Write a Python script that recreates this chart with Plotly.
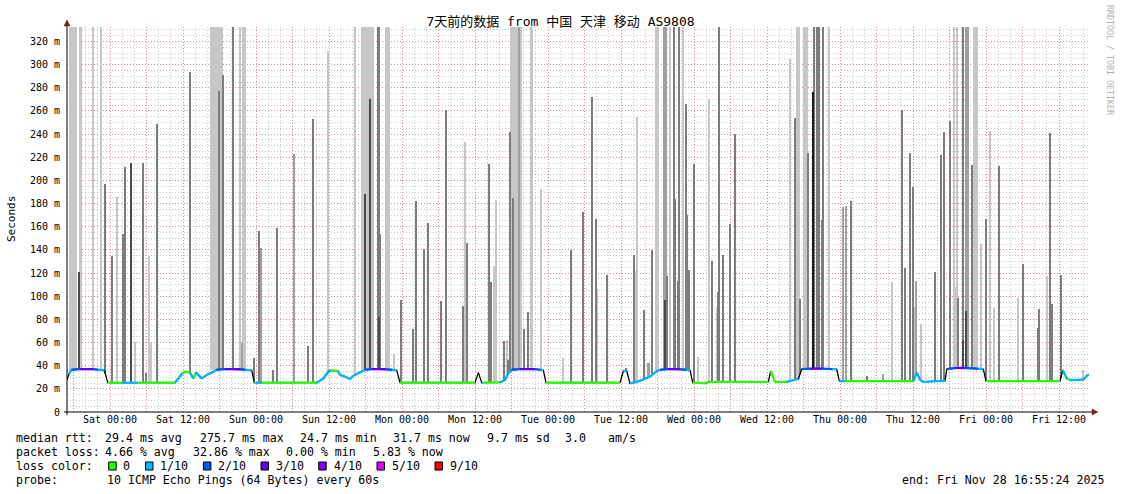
import plotly.graph_objects as go
import numpy as np
import pandas as pd
from datetime import datetime, timedelta

# ---------------- data ----------------
START = datetime(2025, 11, 21, 16, 55, 24)
END = datetime(2025, 11, 28, 16, 55, 24)

TITLE = "7天前的数据 from 中国 天津 移动 AS9808"

Y_TICK_VALUES = [0, 20, 40, 60, 80, 100, 120, 140, 160, 180, 200, 220, 240, 260, 280, 300, 320]
Y_TICK_LABELS = ["0", "20 m", "40 m", "60 m", "80 m", "100 m", "120 m", "140 m", "160 m",
                 "180 m", "200 m", "220 m", "240 m", "260 m", "280 m", "300 m", "320 m"]

X_TICK_TIMES = ["2025-11-22 00:00", "2025-11-22 12:00", "2025-11-23 00:00", "2025-11-23 12:00",
                "2025-11-24 00:00", "2025-11-24 12:00", "2025-11-25 00:00", "2025-11-25 12:00",
                "2025-11-26 00:00", "2025-11-26 12:00", "2025-11-27 00:00", "2025-11-27 12:00",
                "2025-11-28 00:00", "2025-11-28 12:00"]
X_TICK_LABELS = ["Sat 00:00", "Sat 12:00", "Sun 00:00", "Sun 12:00", "Mon 00:00", "Mon 12:00",
                 "Tue 00:00", "Tue 12:00", "Wed 00:00", "Wed 12:00", "Thu 00:00", "Thu 12:00",
                 "Fri 00:00", "Fri 12:00"]

LOSS_LABELS = ["0", "1/10", "2/10", "3/10", "4/10", "5/10", "9/10"]
LOSS_COLORS = ["#26ff00", "#00b8ff", "#0059ff", "#5e00ff", "#7e00ff", "#dd00ff", "#ff0000"]

MEDIAN_STATS = ["median rtt:", "29.4 ms avg", "275.7 ms max", "24.7 ms min", "31.7 ms now",
                "9.7 ms sd", "3.0", "am/s"]
LOSS_STATS = ["packet loss:", "4.66 % avg", "32.86 % max", "0.00 % min", "5.83 % now"]
PROBE_TEXT = ["probe:", "10 ICMP Echo Pings (64 Bytes) every 60s"]
END_TEXT = "end: Fri Nov 28 16:55:24 2025"

# median rtt (hours since start, ms, loss class index)
median_h = [0.0, 0.33, 0.77, 2.14, 4.27, 5.10, 6.16, 6.69, 8.88, 11.67, 17.75, 18.30, 18.91, 19.40,
            20.22, 20.76, 21.21, 22.14, 22.97, 23.79, 24.61, 25.97, 28.44, 29.26, 30.36, 30.79,
            31.07, 32.06, 41.05, 42.13, 42.96, 43.24, 44.55, 44.88, 45.70, 46.52, 47.07, 48.17,
            48.99, 50.14, 52.28, 53.43, 54.20, 54.74, 67.07, 67.62, 68.17, 68.39, 71.18, 72.00,
            72.55, 73.11, 74.47, 76.94, 77.76, 78.30, 78.74, 90.91, 91.45, 92.01, 92.55, 93.37,
            94.48, 95.84, 96.95, 97.49, 98.80, 100.77, 101.76, 102.42, 102.86, 105.16, 105.43,
            115.29, 115.68, 116.39, 118.31, 120.22, 120.78, 122.14, 124.12, 125.76, 126.53,
            126.96, 127.90, 139.13, 139.69, 140.23, 140.77, 144.34, 144.62, 146.00, 147.62,
            149.76, 150.63, 151.08, 163.24, 163.69, 164.35, 164.89, 167.08, 167.64, 168.0]
median_ms = [27.6, 33.0, 36.5, 37.0, 37.0, 36.5, 36.0, 25.3, 25.3, 25.3, 25.3, 29.0, 33.0, 35.0,
             34.0, 29.0, 34.0, 29.0, 32.0, 34.0, 36.5, 37.0, 37.0, 36.5, 36.0, 25.3,
             25.3, 25.3, 25.3, 29.0, 35.0, 36.0, 35.5, 32.0, 30.5, 28.5, 31.3, 34.2,
             36.5, 37.0, 37.0, 36.5, 36.0, 25.3, 25.3, 34.0, 25.3, 25.3, 25.6, 27.6,
             33.4, 36.5, 37.0, 37.0, 36.5, 36.0, 25.3, 25.3, 35.4, 35.4, 24.7, 25.6,
             27.6, 30.5, 35.4, 36.5, 37.0, 37.0, 36.5, 36.0, 25.3, 24.7, 26.1,
             26.0, 35.4, 26.0, 26.0, 28.5, 37.1, 37.5, 37.5, 37.0, 37.0,
             26.7, 26.7, 26.7, 34.2, 27.6, 26.1, 27.0, 37.0, 38.0, 38.0,
             37.5, 37.0, 26.7, 26.7, 36.2, 29.0, 27.6, 28.0, 31.3, 32.5]
median_loss = [1, 1, 2, 3, 2, 1, 1, 0, 1, 0, 1, 1, 0, 0,
               1, 0, 1, 1, 1, 1, 2, 3, 2, 1, 1, 0,
               1, 0, 1, 1, 1, 0, 1, 1, 1, 1, 1, 1,
               2, 3, 2, 1, 1, 0, 0, 0, 1, 0, 1, 1,
               1, 2, 3, 2, 1, 0, 0, 0, 1, 1, 1, 1,
               1, 1, 1, 2, 3, 2, 1, 1, 0, 0, 0,
               0, 0, 0, 1, 1, 2, 3, 2, 1, 0,
               1, 0, 1, 1, 1, 1, 1, 2, 3, 2,
               1, 0, 0, 1, 1, 0, 1, 1, 1, 1]

# smoke (hours since start of burst centre, top of burst in ms, burst duration h, shade)
smoke_h = [0.99, 2.18, 2.02, 4.32, 5.51, 6.30, 7.35, 8.27, 9.37, 9.26, 9.49, 10.47, 11.23, 12.54,
           12.99, 13.53, 13.86, 14.84, 20.22, 24.60, 25.04, 25.69, 27.34, 28.44, 28.88, 29.31,
           28.72, 30.74, 31.51, 31.94, 31.84, 33.82, 34.57, 37.37, 39.67, 40.49, 42.96, 47.34,
           49.37, 48.94, 49.76, 51.13, 51.34, 51.45, 51.34, 52.69, 53.75, 54.96, 56.93, 57.42,
           58.74, 59.39, 61.53, 62.35, 65.15, 65.38, 65.81, 69.42, 69.75, 70.19, 70.47, 71.81,
           72.28, 72.45, 73.79, 72.82, 73.27, 74.35, 75.13, 75.83, 76.34, 77.87, 81.59, 82.80,
           84.87, 86.25, 86.91, 87.18, 88.72, 91.89, 93.26, 93.37, 93.75, 94.90, 95.63, 96.12,
           96.83, 97.02, 98.36, 98.26, 98.69, 99.13, 99.79, 100.00, 100.45, 100.66, 101.32,
           101.71, 101.97, 102.25, 103.12, 103.78, 105.59, 106.08, 106.85, 107.07, 107.23,
           107.89, 109.04, 109.86, 118.85, 119.67, 120.17, 120.51, 121.45, 121.77, 122.69,
           122.85, 123.34, 123.67, 124.16, 124.33, 125.22, 127.62, 128.06, 128.93, 131.56,
           134.19, 135.57, 137.31, 137.71, 138.58, 139.02, 139.35, 139.52, 140.34, 142.74,
           143.73, 144.12, 145.20, 145.86, 146.14, 146.35, 146.52, 147.25, 147.95, 147.25,
           147.79, 148.73, 149.35, 150.20, 150.30, 151.12, 151.73, 152.34, 153.21, 156.29,
           157.21, 159.67, 159.84, 161.15, 161.65, 161.98, 163.36, 166.97]
smoke_top = [400, 400, 121, 400, 400, 197, 134.6, 185.8, 123, 153.6, 211.7, 215.4, 60.7, 215.4,
             33.6, 134.6, 59.8, 249, 294, 400, 277, 290.8, 400, 400, 400, 400,
             59.8, 46.3, 156, 142, 114.5, 36, 158.5, 223, 57, 253.4, 311.5, 400,
             400, 188.6, 270, 400, 400, 153.6, 82, 400, 50, 96.6, 72, 182,
             140.4, 163.3, 95.8, 260.6, 91.5, 233, 146, 214, 112, 126, 183, 61,
             62, 45, 400, 241.6, 185, 400, 71.3, 86, 400, 193, 47, 140,
             172.8, 271.8, 166.5, 106, 118, 38, 136, 122, 255, 88, 42, 140,
             89.6, 400, 400, 96.6, 117.3, 400, 400, 184, 113, 400, 400,
             265.7, 170, 122.5, 214, 47.7, 270.7, 130, 89.6, 103.5, 400,
             135.5, 162, 240, 305, 254, 400, 97.5, 400, 224, 276.4,
             400, 400, 400, 165.6, 400, 400, 177, 177.7, 182.3, 31,
             32.8, 112, 260.6, 124, 224, 194.4, 91, 113, 76, 120.5,
             222, 241.6, 251, 400, 108, 400, 98.7, 400, 400, 62,
             87, 213, 400, 145.5, 64, 166.5, 242.7, 89.5, 212.5, 98.7,
             127.7, 72.7, 89, 117.3, 241, 93.2, 118, 36]
smoke_span = [1.31, 0.58, 0.16, 0.16, 0.33, 0.16, 0.16, 0.16, 0.49, 0.16, 0.16, 0.33, 0.16, 0.16,
              0.16, 0.16, 0.16, 0.16, 0.16, 2.19, 0.33, 0.16, 0.16, 0.16, 0.16, 0.16,
              0.33, 0.16, 0.33, 0.16, 0.16, 0.16, 0.16, 0.16, 0.33, 0.16, 0.16, 0.16,
              2.19, 0.33, 0.33, 0.16, 0.16, 0.16, 0.16, 0.82, 0.16, 0.16, 0.16, 0.16,
              0.16, 0.16, 0.16, 0.16, 0.16, 0.16, 0.16, 0.16, 0.16, 0.16, 0.16, 0.38,
              0.16, 0.16, 1.92, 0.16, 0.16, 0.16, 0.16, 0.16, 0.44, 0.16, 0.16, 0.33,
              0.16, 0.16, 0.16, 0.16, 0.16, 0.16, 0.16, 0.16, 0.33, 0.16, 0.49, 0.16,
              0.16, 0.71, 0.66, 0.33, 0.16, 0.16, 0.16, 0.16, 0.16, 0.16, 0.33,
              0.16, 0.16, 0.16, 0.16, 0.33, 0.16, 0.16, 0.16, 0.16, 0.16,
              0.16, 0.16, 0.16, 0.16, 0.16, 0.66, 0.16, 0.82, 0.16, 0.33,
              0.16, 0.16, 0.16, 0.16, 0.16, 0.33, 0.16, 0.16, 0.16, 0.16,
              0.16, 0.16, 0.16, 0.33, 0.33, 0.16, 0.16, 0.16, 0.33, 0.16,
              0.16, 0.33, 0.16, 0.16, 0.16, 0.16, 0.16, 0.16, 0.66, 0.16,
              0.16, 0.33, 0.92, 0.16, 0.16, 0.16, 0.16, 0.33, 0.33, 0.16,
              0.16, 0.33, 0.16, 0.16, 0.16, 0.16, 0.33, 0.33]
smoke_shade = ["L", "L", "K", "L", "L", "D", "D", "L", "M", "D", "D", "K", "L", "D",
               "D", "L", "L", "D", "D", "L", "D", "D", "D", "L", "L", "L",
               "M", "D", "D", "M", "L", "D", "D", "M", "D", "D", "L", "L",
               "L", "K", "K", "D", "D", "D", "K", "L", "L", "D", "D", "D",
               "D", "D", "D", "D", "D", "L", "D", "D", "D", "L", "L", "D",
               "L", "D", "L", "D", "D", "M", "D", "D", "L", "L", "L", "D",
               "D", "D", "D", "L", "D", "D", "D", "L", "L", "D", "M", "D",
               "L", "L", "M", "K", "D", "L", "D", "D", "D", "D", "L",
               "D", "D", "D", "D", "L", "L", "D", "L", "D", "D",
               "D", "D", "D", "L", "D", "L", "D", "L", "D", "X",
               "D", "D", "D", "D", "D", "L", "M", "M", "D", "D",
               "M", "L", "D", "D", "D", "D", "L", "M", "L", "D",
               "D", "D", "D", "L", "L", "L", "D", "D", "M", "K",
               "K", "D", "L", "L", "L", "D", "L", "L", "D", "L",
               "D", "D", "D", "L", "D", "D", "D", "L"]

SHADE_COLORS = {"L": "#c6c6c6", "M": "#a0a0a0", "D": "#7c7c7c", "K": "#4a4a4a", "X": "#1a1a1a"}

# ---------------- geometry helpers (pixels -> paper) ----------------
W, H = 1121, 494
PL, PR, PT, PB = 67, 1089, 27, 412


def pxx(x):
    return (x - PL) / (PR - PL)


def pxy(y):
    return (PB - y) / (PB - PT)


def t(h):
    return START + timedelta(hours=h)


MONO = "DejaVu Sans Mono, Noto Sans CJK SC, monospace"

fig = go.Figure()

# smoke
base = np.interp(smoke_h, median_h, median_ms)
for shade in ["L", "M", "D", "K", "X"]:
    idx = [i for i, s in enumerate(smoke_shade) if s == shade]
    if not idx:
        continue
    fig.add_trace(go.Bar(
        x=[t(smoke_h[i]) for i in idx],
        y=[smoke_top[i] - base[i] for i in idx],
        base=[base[i] for i in idx],
        width=[smoke_span[i] * 3600 * 1000 for i in idx],
        marker=dict(color=SHADE_COLORS[shade], line=dict(width=0)),
        hoverinfo="skip", showlegend=False,
    ))

# black median underline
fig.add_trace(go.Scatter(x=[t(h) for h in median_h], y=median_ms, mode="lines",
                         line=dict(color="#000000", width=1.3), hoverinfo="skip", showlegend=False))

# coloured median by loss (steep transitions left black)
for c, col in enumerate(LOSS_COLORS):
    xs, ys = [], []
    for i in range(len(median_h) - 1):
        if median_loss[i] != c:
            continue
        slope = abs(median_ms[i + 1] - median_ms[i]) / max(median_h[i + 1] - median_h[i], 1e-6)
        if slope > 15:
            continue
        xs += [t(median_h[i]), t(median_h[i + 1]), None]
        ys += [median_ms[i], median_ms[i + 1], None]
    if xs:
        fig.add_trace(go.Scatter(x=xs, y=ys, mode="lines", line=dict(color=col, width=2.3),
                                 hoverinfo="skip", showlegend=False))

# axis grid ticks
major_times = pd.date_range("2025-11-21 18:00", END, freq="6h")
label_map = dict(zip(pd.to_datetime(X_TICK_TIMES), X_TICK_LABELS))
major_text = [label_map.get(m, "") for m in major_times]

RED_GRID = "rgba(225,90,90,0.55)"
GREY_GRID = "rgba(150,150,150,0.5)"

fig.update_layout(
    width=W, height=H,
    margin=dict(l=PL, r=W - PR, t=PT, b=H - PB, pad=0),
    paper_bgcolor="#ffffff", plot_bgcolor="#ffffff",
    barmode="overlay", bargap=0,
    showlegend=False,
    font=dict(family=MONO, size=10, color="#000000"),
    title=dict(text=TITLE, x=0.5, xref="container", xanchor="center",
               y=1 - 21 / H, yref="container", yanchor="middle",
               font=dict(family=MONO, size=13, color="#000000")),
)
fig.update_xaxes(
    type="date", range=[START, END],
    tickvals=list(major_times), ticktext=major_text,
    showgrid=True, gridcolor=RED_GRID, griddash="1px,2px", gridwidth=1,
    minor=dict(dtick=2 * 3600 * 1000, showgrid=True, gridcolor=GREY_GRID, griddash="1px,2px"),
    showline=False, zeroline=False, ticks="",
    tickfont=dict(family=MONO, size=10, color="#000000"),
    fixedrange=True,
)
fig.update_yaxes(
    range=[0, 332.5],
    tickvals=Y_TICK_VALUES, ticktext=Y_TICK_LABELS,
    showgrid=True, gridcolor=RED_GRID, griddash="1px,2px", gridwidth=1,
    minor=dict(dtick=5, showgrid=True, gridcolor=GREY_GRID, griddash="1px,2px"),
    showline=False, zeroline=False, ticks="", ticklabelstandoff=6,
    tickfont=dict(family=MONO, size=10, color="#000000"),
    fixedrange=True,
)

shapes = []
# axes with arrows
shapes.append(dict(type="line", xref="paper", yref="paper", x0=pxx(64), x1=pxx(1093), y0=0, y1=0,
                   line=dict(color="#000000", width=1)))
shapes.append(dict(type="line", xref="paper", yref="paper", x0=0, x1=0, y0=pxy(415), y1=pxy(24),
                   line=dict(color="#000000", width=1)))
shapes.append(dict(type="path", xref="paper", yref="paper",
                   path=f"M {pxx(1092)},{pxy(409)} L {pxx(1098)},{pxy(412)} L {pxx(1092)},{pxy(415)} Z",
                   fillcolor="#7a1f1f", line=dict(color="#7a1f1f", width=0.5)))
shapes.append(dict(type="path", xref="paper", yref="paper",
                   path=f"M {pxx(64)},{pxy(26)} L {pxx(67)},{pxy(20)} L {pxx(70)},{pxy(26)} Z",
                   fillcolor="#7a1f1f", line=dict(color="#7a1f1f", width=0.5)))

# loss color legend boxes
box_left = [108.7, 145.5, 203.4, 261, 318.7, 377, 435]
label_left = [123, 160, 218.2, 276, 334, 391.7, 449.9]
for bx, col in zip(box_left, LOSS_COLORS):
    shapes.append(dict(type="rect", xref="paper", yref="paper",
                       x0=pxx(bx), x1=pxx(bx + 7.5), y0=pxy(470), y1=pxy(462),
                       fillcolor=col, line=dict(color="#000000", width=1)))
fig.update_layout(shapes=shapes)

NB = "\u00a0"


def txt(s):
    return s.replace(" ", NB)


annotations = []
LEG_FONT = dict(family=MONO, size=11.6, color="#000000")


def leg(xpx, ypx, s):
    # annotation boxes carry ~2px padding before the glyphs
    annotations.append(dict(xref="paper", yref="paper", x=pxx(xpx - 2), y=pxy(ypx), text=txt(s),
                            showarrow=False, xanchor="left", yanchor="middle", font=LEG_FONT))


for xx, s in zip([16, 105.3, 200, 300.3, 393, 486.5, 564.5, 607.8], MEDIAN_STATS):
    leg(xx, 437.5, s)
for xx, s in zip([16, 105.3, 193, 286.4, 372.8], LOSS_STATS):
    leg(xx, 452, s)
leg(16, 466, "loss color:")
for lx, lab in zip(label_left, LOSS_LABELS):
    leg(lx, 466, lab)
for xx, s in zip([16, 107.4], PROBE_TEXT):
    leg(xx, 480.5, s)
annotations.append(dict(xref="paper", yref="paper", x=pxx(1106), y=pxy(480.5),
                        text=txt(END_TEXT),
                        showarrow=False, xanchor="right", yanchor="middle", font=LEG_FONT))
annotations.append(dict(xref="paper", yref="paper", x=pxx(11), y=pxy(219), text="Seconds",
                        textangle=-90, showarrow=False, xanchor="center", yanchor="middle",
                        font=dict(family=MONO, size=11, color="#000000")))
annotations.append(dict(xref="paper", yref="paper", x=pxx(1110), y=pxy(60),
                        text=txt("RRDTOOL / TOBI OETIKER"),
                        textangle=90, showarrow=False, xanchor="center", yanchor="middle",
                        font=dict(family=MONO, size=8.3, color="#b0b0b0")))
fig.update_layout(annotations=annotations)

fig.write_html("out.html", config={"displayModeBar": False},
               post_script="document.body.style.margin='0';document.body.style.padding='0';")
